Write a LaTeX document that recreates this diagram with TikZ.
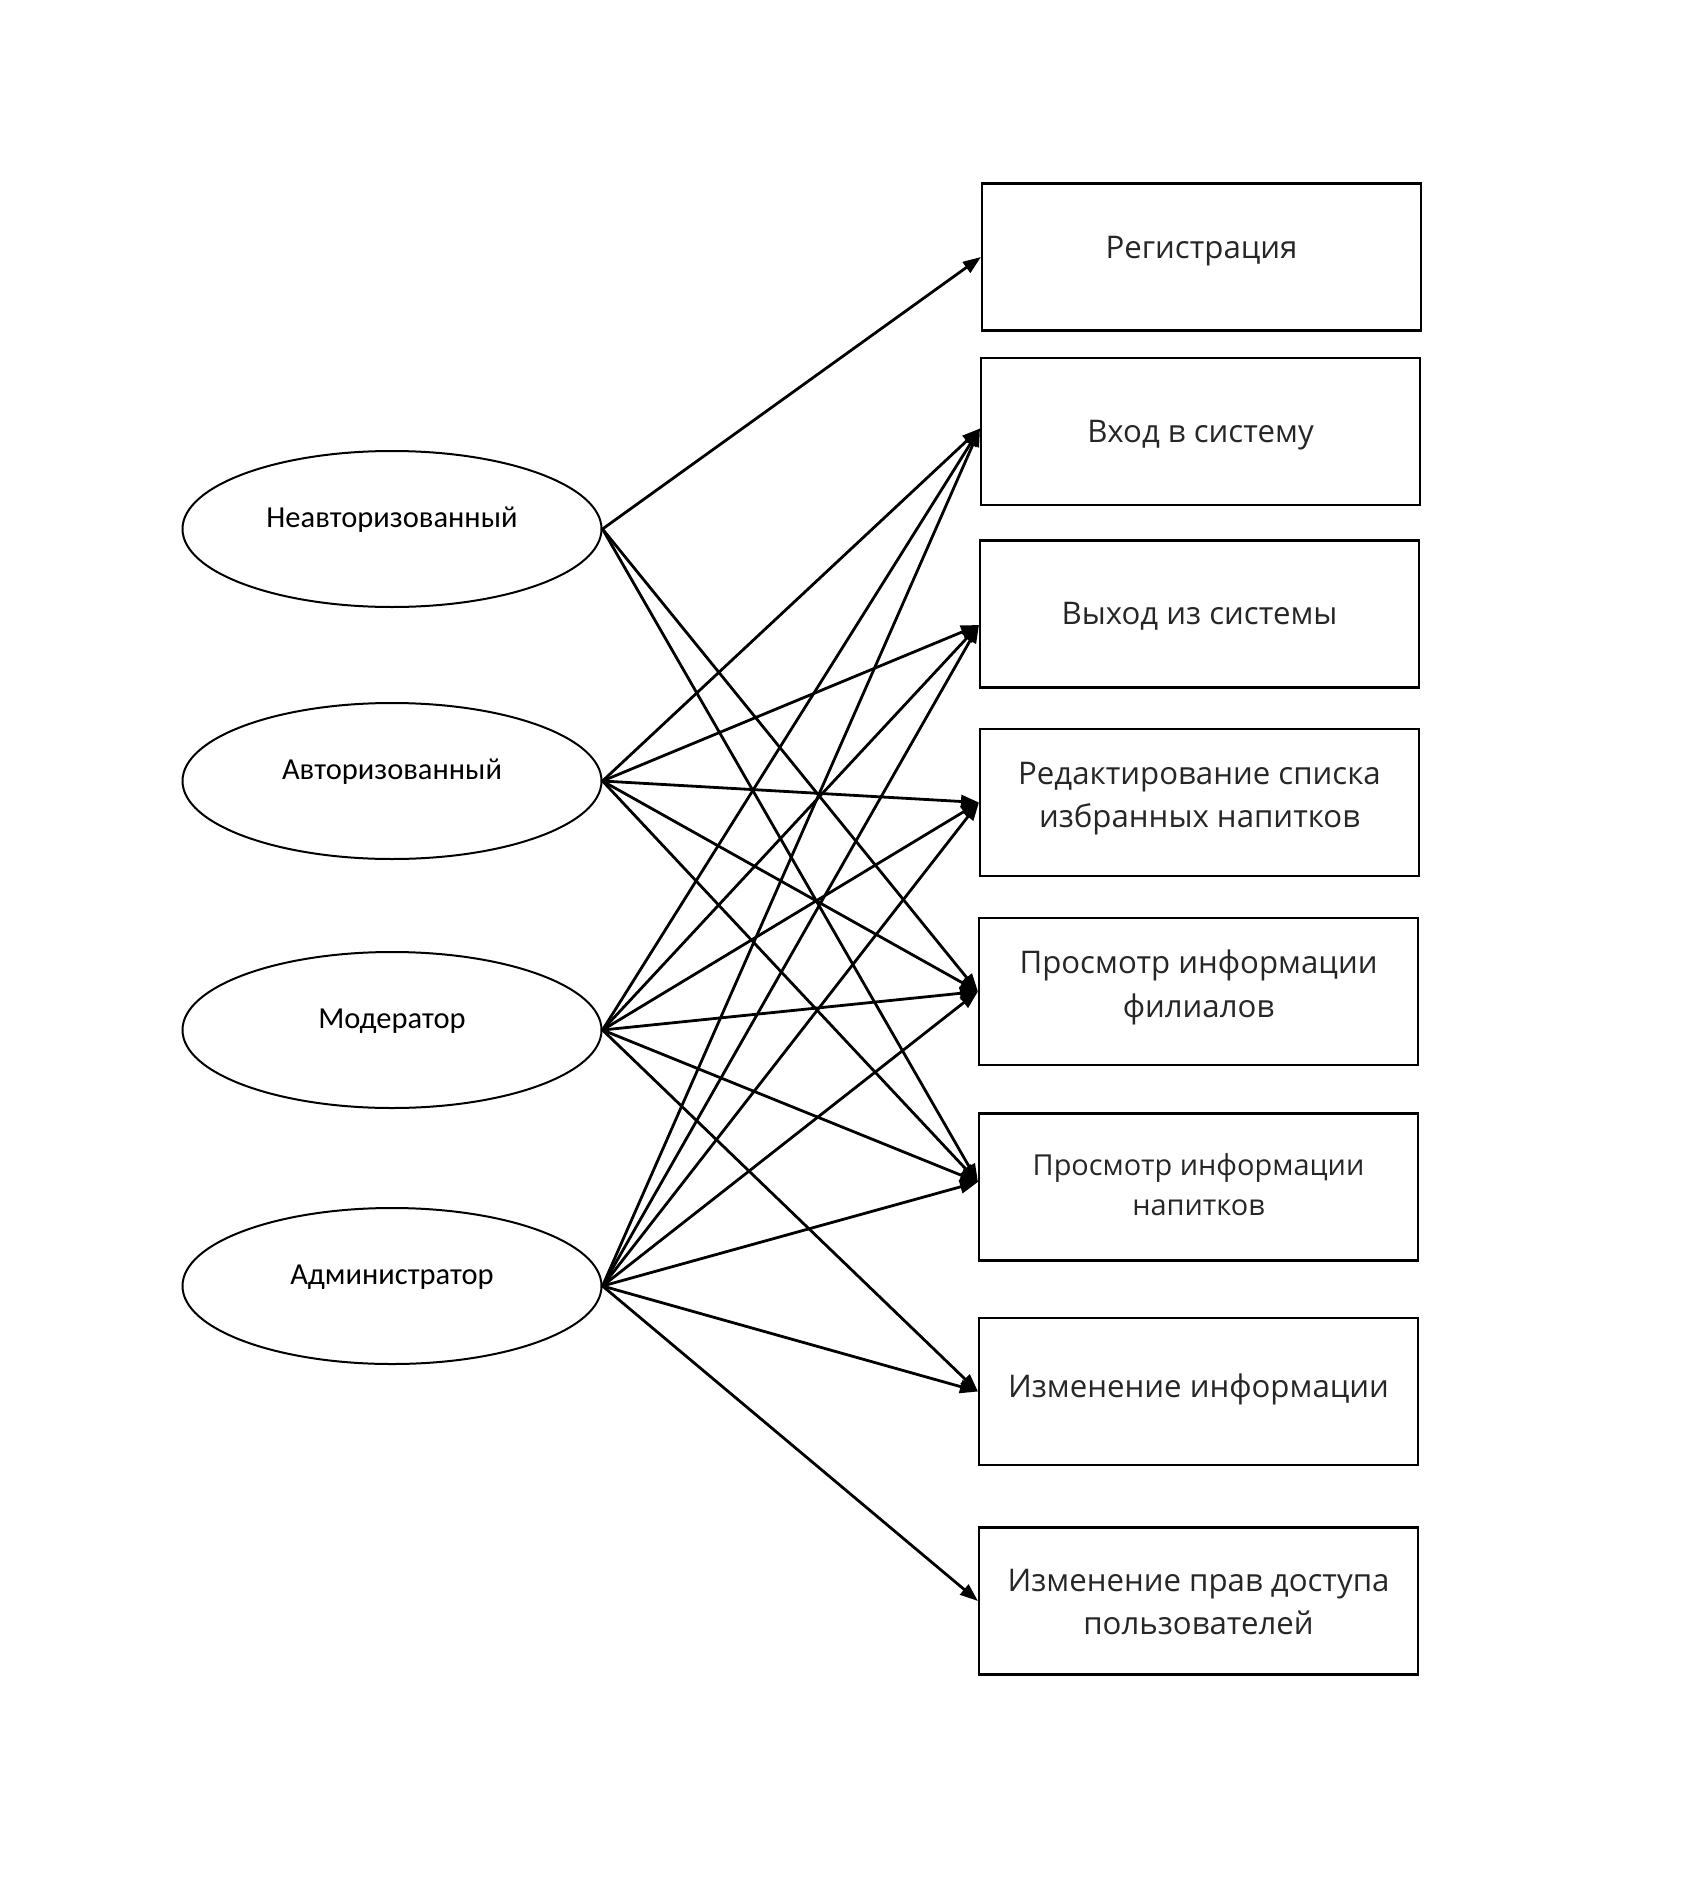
\documentclass[tikz,border=0pt]{standalone}
\usepackage{fontspec}
\setmainfont{Open Sans}
\newfontfamily\actorfont{Carlito}
\usetikzlibrary{shapes.geometric,arrows.meta,calc}
\definecolor{boxtext}{HTML}{262626}
\begin{document}
\begin{tikzpicture}[x=1pt,y=-1pt,
  actor/.style={ellipse,draw,line width=2pt,minimum width=419pt,minimum height=156pt,inner sep=0pt},
  usecase/.style={rectangle,draw,line width=2.1pt,minimum width=439pt,minimum height=147pt,inner sep=0pt},
  actortext/.style={font=\actorfont\fontsize{30.5}{36}\selectfont,text=black,inner sep=0pt},
  bigtext/.style={font=\fontsize{31.2}{43.7}\selectfont,text=boxtext,align=center,inner sep=0pt},
  smalltext/.style={font=\fontsize{28.9}{40}\selectfont,text=boxtext,align=center,inner sep=0pt},
  link/.style={line width=2.8pt,-{Triangle[length=18pt,width=13pt]}}]
\useasboundingbox (0,0) rectangle (1687,1902);

% actors
\node[actor] (guest) at (392,529) {};
\node[actor] (user)  at (392,781) {};
\node[actor] (moder) at (392,1030) {};
\node[actor] (admin) at (392,1286) {};
\node[actortext] (guest-t) at ([yshift=9pt]guest.center) {Неавторизованный};
\node[actortext] (user-t)  at ([yshift=9pt]user.center)  {Авторизованный};
\node[actortext] (moder-t) at ([yshift=9pt]moder.center) {Модератор};
\node[actortext] (admin-t) at ([yshift=9pt]admin.center) {Администратор};

% use cases
\node[usecase] (reg)    at (1201.5,257)  {};
\node[usecase] (login)  at (1200.5,431.5) {};
\node[usecase] (logout) at (1199.5,614)  {};
\node[usecase] (fav)    at (1199.5,802.5) {};
\node[usecase] (branch) at (1198.5,991.5) {};
\node[usecase] (drink)  at (1198.5,1187) {};
\node[usecase] (edit)   at (1198.5,1391.5) {};
\node[usecase] (rights) at (1198.5,1601) {};

\node[bigtext]   (reg-t)    at ([yshift=6pt]reg.center)      {Регистрация};
\node[bigtext]   (login-t)  at ([yshift=-4pt]login.center)   {Вход в систему};
\node[bigtext]   (logout-t) at ([yshift=-2.5pt]logout.center) {Выход из системы};
\node[bigtext]   (fav-t)    at ([yshift=4pt]fav.center)      {Редактирование списка\\избранных напитков};
\node[bigtext]   (branch-t) at ([yshift=4pt]branch.center)   {Просмотр информации\\филиалов};
\node[smalltext] (drink-t)  at ([yshift=2pt]drink.center)    {Просмотр информации\\напитков};
\node[bigtext]   (edit-t)   at ([yshift=2.5pt]edit.center)   {Изменение информации};
\node[bigtext]   (rights-t) at ([yshift=-1pt]rights.center)  {Изменение прав доступа\\пользователей};

% arrow entry points
\coordinate (reg-in)    at (reg.west);
\coordinate (login-in)  at ($(login.west)+(0,-3)$);
\coordinate (logout-in) at ($(logout.west)+(0,11)$);
\coordinate (fav-in)    at (fav.west);
\coordinate (branch-in) at (branch.west);
\coordinate (drink-in)  at ($(drink.west)+(0,-5)$);
\coordinate (edit-in)   at (edit.west);
\coordinate (rights-in) at (rights.west);

% associations
\foreach \s/\t in {guest/reg, guest/branch, guest/drink,
  user/login, user/logout, user/fav, user/branch, user/drink,
  moder/login, moder/logout, moder/fav, moder/branch, moder/drink, moder/edit,
  admin/login, admin/logout, admin/fav, admin/branch, admin/drink, admin/edit, admin/rights}
  \draw[link] (\s.east) -- (\t-in);
\end{tikzpicture}
\end{document}
